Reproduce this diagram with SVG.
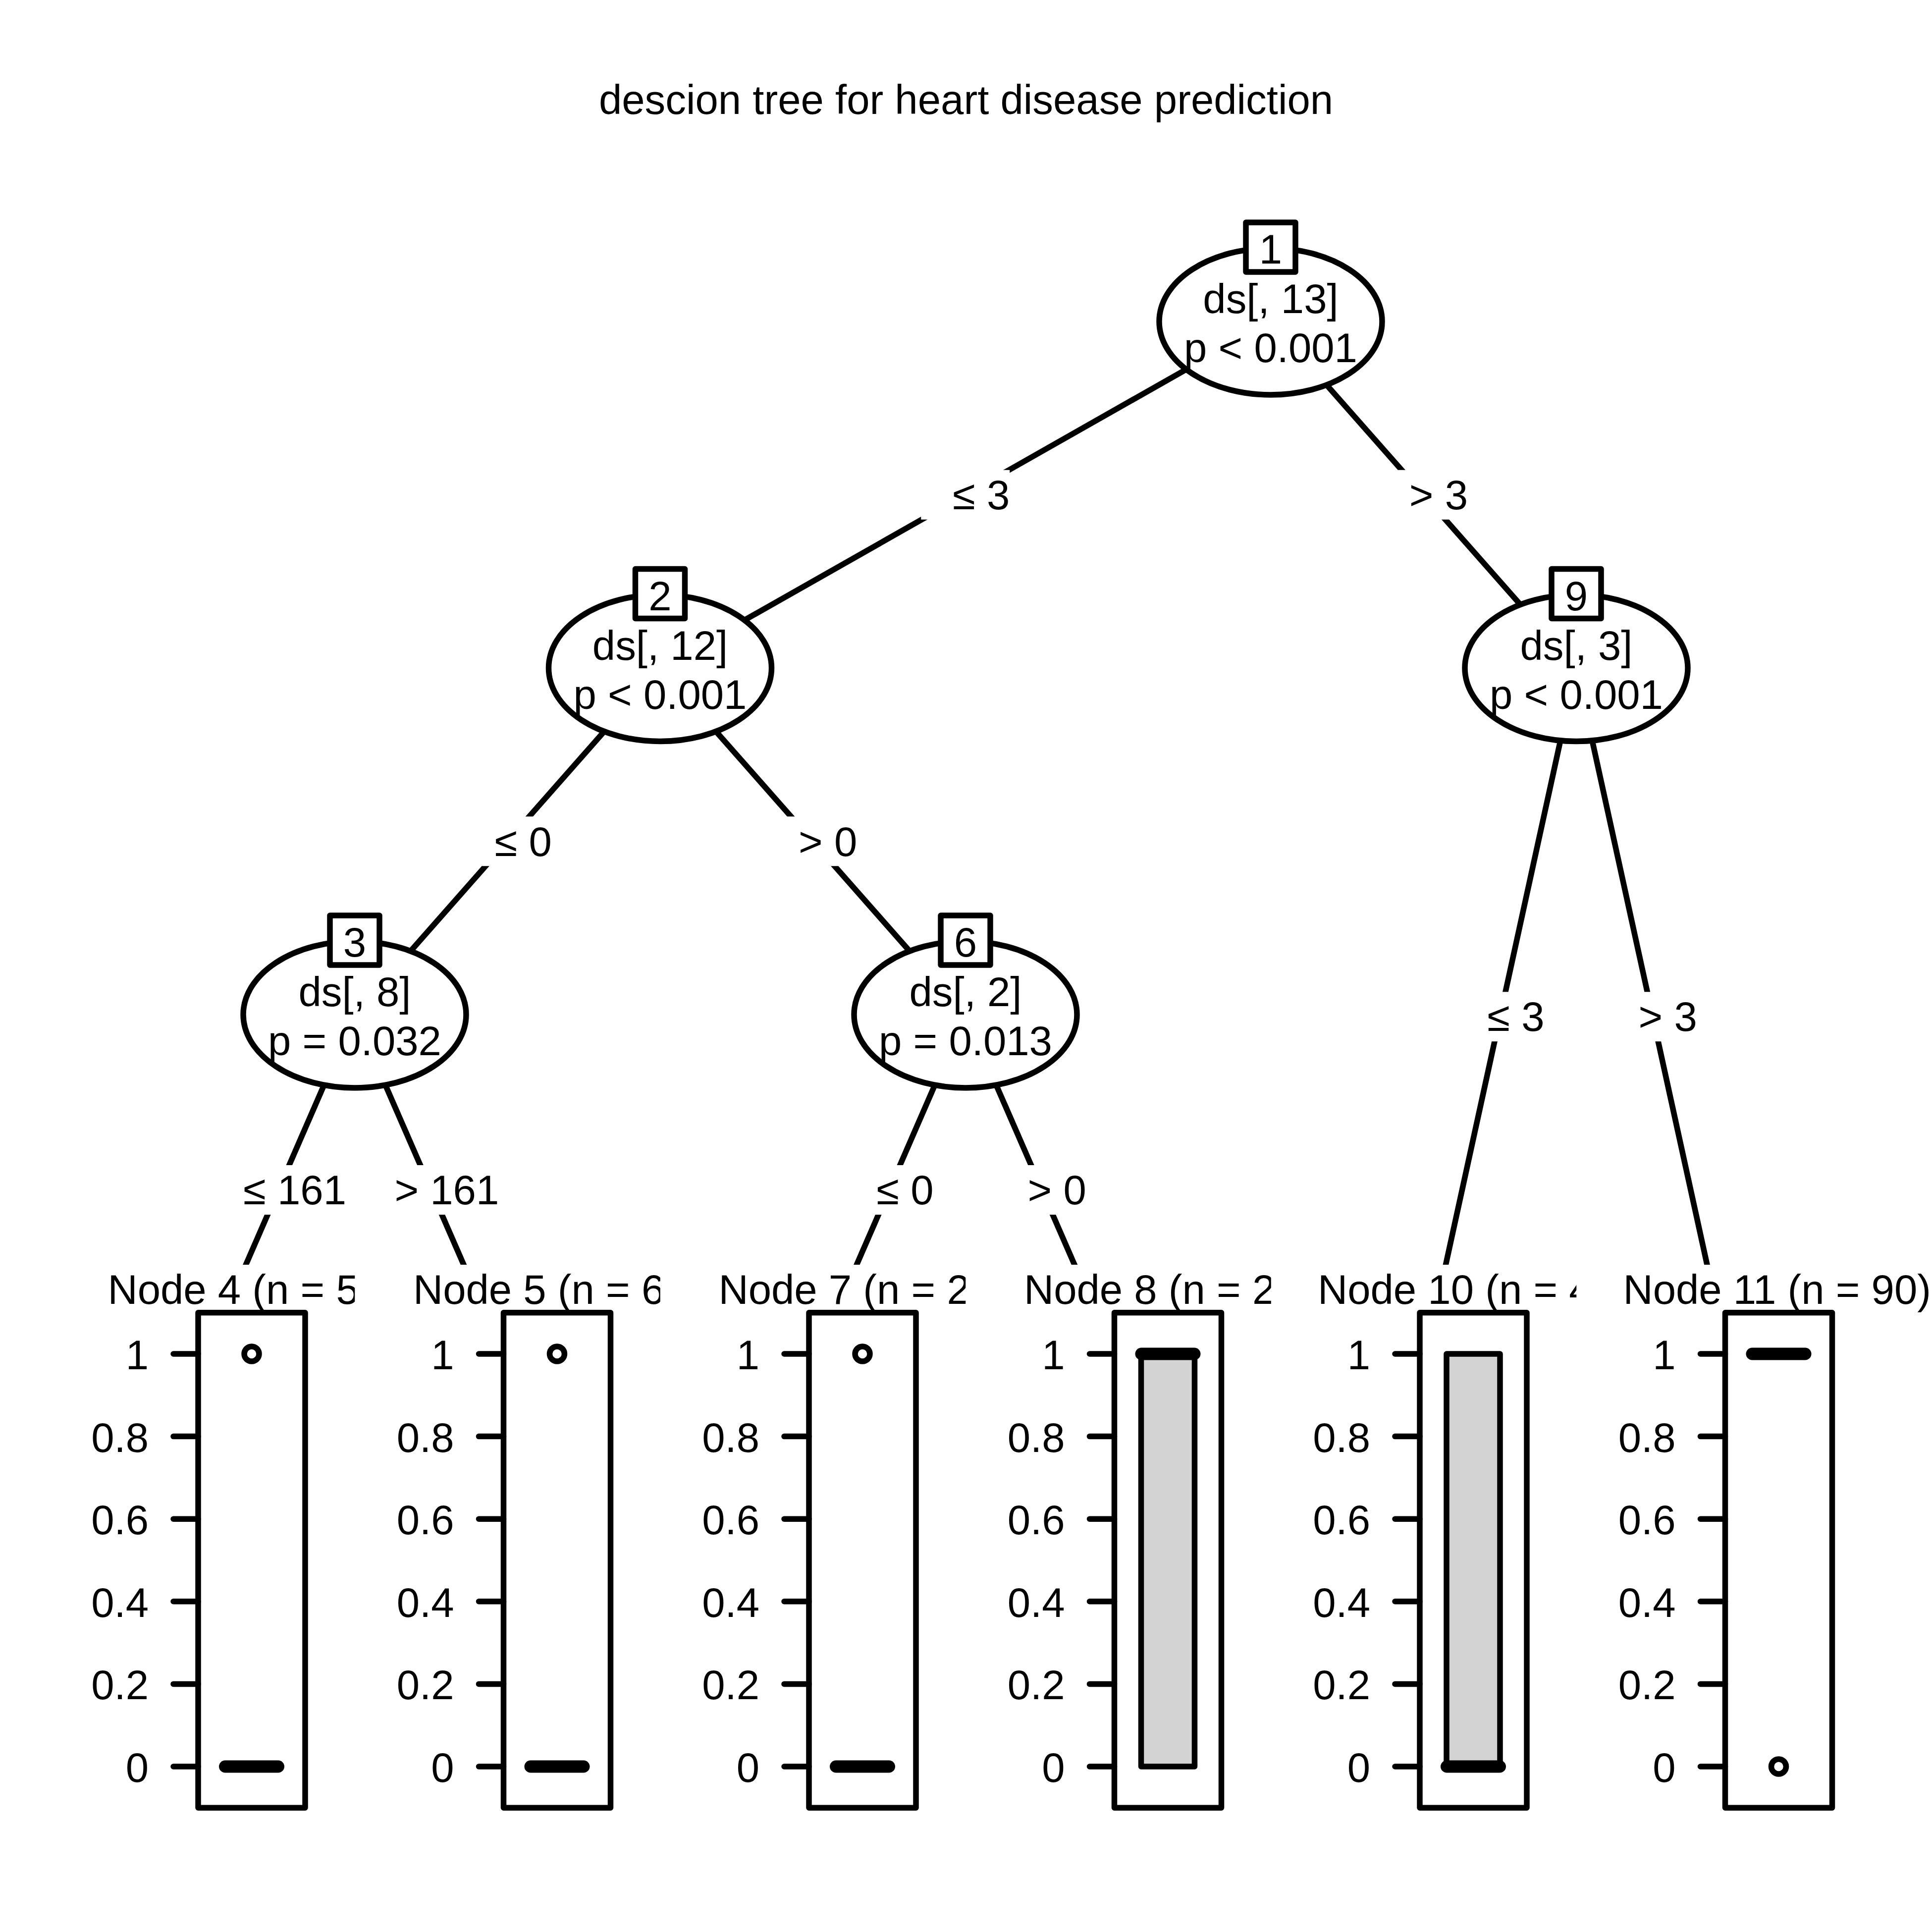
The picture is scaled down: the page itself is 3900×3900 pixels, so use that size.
<svg xmlns="http://www.w3.org/2000/svg" xmlns:xlink="http://www.w3.org/1999/xlink" width="3900" height="3900" viewBox="0 0 3900 3900">
<style>
.t{font-family:"Liberation Sans",Arial,sans-serif;font-size:83.33px;fill:#000}
.c{text-anchor:middle}
.e{text-anchor:end}
.edge{stroke:#000;stroke-width:11.5;fill:none}
.lbg,.bg{fill:#fff;stroke:none}
.nd{fill:#fff;stroke:#000;stroke-width:11.5}
.idb{fill:#fff;stroke:#000;stroke-width:11.5;stroke-linejoin:round}
.box{fill:#fff;stroke:#000;stroke-width:11.5;stroke-linejoin:round}
.tick{stroke:#000;stroke-width:11.5;stroke-linecap:round}
.bp{fill:#D3D3D3;stroke:#000;stroke-width:11.5;stroke-linejoin:round}
.med{stroke:#000;stroke-width:25;stroke-linecap:round}
.out{fill:#fff;stroke:#000;stroke-width:11.5}
</style>
<defs>
<g id="axis">
<line class="tick" x1="0" y1="3566" x2="-50" y2="3566"/>
<line class="tick" x1="0" y1="3399.4" x2="-50" y2="3399.4"/>
<line class="tick" x1="0" y1="3232.8" x2="-50" y2="3232.8"/>
<line class="tick" x1="0" y1="3066.2" x2="-50" y2="3066.2"/>
<line class="tick" x1="0" y1="2899.6" x2="-50" y2="2899.6"/>
<line class="tick" x1="0" y1="2733" x2="-50" y2="2733"/>
<text class="t e" x="-100" y="3597">0</text>
<text class="t e" x="-100" y="3430.4">0.2</text>
<text class="t e" x="-100" y="3263.8">0.4</text>
<text class="t e" x="-100" y="3097.2">0.6</text>
<text class="t e" x="-100" y="2930.6">0.8</text>
<text class="t e" x="-100" y="2764">1</text>
</g>
</defs>
<rect x="0" y="0" width="3900" height="3900" fill="#fff"/>
<text class="t c" x="1950" y="230">descion tree for heart disease prediction</text>

<g id="connectors">
<line class="edge" x1="2565" y1="649" x2="1332.5" y2="1348.5"/>
<line class="edge" x1="2565" y1="649" x2="3182" y2="1348.5"/>
<line class="edge" x1="1332.5" y1="1348.5" x2="716" y2="2048"/>
<line class="edge" x1="1332.5" y1="1348.5" x2="1949" y2="2048"/>
<line class="edge" x1="716" y1="2048" x2="408" y2="2756"/>
<line class="edge" x1="716" y1="2048" x2="1024.5" y2="2756"/>
<line class="edge" x1="1949" y1="2048" x2="1641" y2="2756"/>
<line class="edge" x1="1949" y1="2048" x2="2257.5" y2="2756"/>
<line class="edge" x1="3182" y1="1348.5" x2="2874" y2="2756"/>
<line class="edge" x1="3182" y1="1348.5" x2="3490.5" y2="2756"/>
<rect class="lbg" x="1859.25" y="948.75" width="179" height="100"/>
<text class="t e" x="2038.25" y="1028">≤ 3</text>
<rect class="lbg" x="2784" y="948.75" width="179" height="100"/>
<text class="t e" x="2963" y="1028">&gt; 3</text>
<rect class="lbg" x="934.75" y="1648.25" width="179" height="100"/>
<text class="t e" x="1113.75" y="1727.5">≤ 0</text>
<rect class="lbg" x="1551.25" y="1648.25" width="179" height="100"/>
<text class="t e" x="1730.25" y="1727.5">&gt; 0</text>
<rect class="lbg" x="426.5" y="2352" width="271" height="100"/>
<text class="t e" x="699" y="2431">≤ 161</text>
<rect class="lbg" x="734.75" y="2352" width="271" height="100"/>
<text class="t e" x="1007.25" y="2431">&gt; 161</text>
<rect class="lbg" x="1705.5" y="2352" width="179" height="100"/>
<text class="t e" x="1884.5" y="2431">≤ 0</text>
<rect class="lbg" x="2013.75" y="2352" width="179" height="100"/>
<text class="t e" x="2192.75" y="2431">&gt; 0</text>
<rect class="lbg" x="2938.5" y="2002.25" width="179" height="100"/>
<text class="t e" x="3117.5" y="2080.5">≤ 3</text>
<rect class="lbg" x="3246.75" y="2002.25" width="179" height="100"/>
<text class="t e" x="3425.75" y="2080.5">&gt; 3</text>
</g>

<g id="node1">
<ellipse class="nd" cx="2565" cy="649" rx="225" ry="148"/>
<rect class="idb" x="2515" y="449" width="100" height="100"/>
<text class="t c" x="2565" y="532">1</text>
<text class="t c" x="2565" y="632">ds[, 13]</text>
<text class="t c" x="2565" y="731">p &lt; 0.001</text>
</g>
<g id="node2">
<ellipse class="nd" cx="1332.5" cy="1348.5" rx="225" ry="148"/>
<rect class="idb" x="1282.5" y="1148.5" width="100" height="100"/>
<text class="t c" x="1332.5" y="1231.5">2</text>
<text class="t c" x="1332.5" y="1331.5">ds[, 12]</text>
<text class="t c" x="1332.5" y="1430.5">p &lt; 0.001</text>
</g>
<g id="node9">
<ellipse class="nd" cx="3182" cy="1348.5" rx="225" ry="148"/>
<rect class="idb" x="3132" y="1148.5" width="100" height="100"/>
<text class="t c" x="3182" y="1231.5">9</text>
<text class="t c" x="3182" y="1331.5">ds[, 3]</text>
<text class="t c" x="3182" y="1430.5">p &lt; 0.001</text>
</g>
<g id="node3">
<ellipse class="nd" cx="716" cy="2048" rx="225" ry="148"/>
<rect class="idb" x="666" y="1848" width="100" height="100"/>
<text class="t c" x="716" y="1931">3</text>
<text class="t c" x="716" y="2031">ds[, 8]</text>
<text class="t c" x="716" y="2130">p = 0.032</text>
</g>
<g id="node6">
<ellipse class="nd" cx="1949" cy="2048" rx="225" ry="148"/>
<rect class="idb" x="1899" y="1848" width="100" height="100"/>
<text class="t c" x="1949" y="1931">6</text>
<text class="t c" x="1949" y="2031">ds[, 2]</text>
<text class="t c" x="1949" y="2130">p = 0.013</text>
</g>

<g id="node4">
<rect class="bg" x="99.75" y="2553" width="616.5" height="1200"/>
<text class="t" x="217.5" y="2632">Node 4 (n = 5</text>
<rect class="box" x="400" y="2649.7" width="216" height="999.6"/>
<use xlink:href="#axis" x="400"/>
<line class="med" x1="454.5" y1="3566" x2="561.5" y2="3566"/>
<circle class="out" cx="508" cy="2733" r="15"/>
</g>
<g id="node5">
<rect class="bg" x="716.25" y="2553" width="616.5" height="1200"/>
<text class="t" x="834" y="2632">Node 5 (n = 6</text>
<rect class="box" x="1016.5" y="2649.7" width="216" height="999.6"/>
<use xlink:href="#axis" x="1016.5"/>
<line class="med" x1="1071" y1="3566" x2="1178" y2="3566"/>
<circle class="out" cx="1124.5" cy="2733" r="15"/>
</g>
<g id="node7">
<rect class="bg" x="1332.75" y="2553" width="616.5" height="1200"/>
<text class="t" x="1450.5" y="2632">Node 7 (n = 2</text>
<rect class="box" x="1633" y="2649.7" width="216" height="999.6"/>
<use xlink:href="#axis" x="1633"/>
<line class="med" x1="1687.5" y1="3566" x2="1794.5" y2="3566"/>
<circle class="out" cx="1741" cy="2733" r="15"/>
</g>
<g id="node8">
<rect class="bg" x="1949.25" y="2553" width="616.5" height="1200"/>
<text class="t" x="2067" y="2632">Node 8 (n = 2</text>
<rect class="box" x="2249.5" y="2649.7" width="216" height="999.6"/>
<use xlink:href="#axis" x="2249.5"/>
<rect class="bp" x="2303.5" y="2733" width="108" height="833"/>
<line class="med" x1="2304" y1="2733" x2="2411" y2="2733"/>
</g>
<g id="node10">
<rect class="bg" x="2565.75" y="2553" width="616.5" height="1200"/>
<text class="t" x="2660" y="2632">Node 10 (n = 4</text>
<rect class="box" x="2866" y="2649.7" width="216" height="999.6"/>
<use xlink:href="#axis" x="2866"/>
<rect class="bp" x="2920" y="2733" width="108" height="833"/>
<line class="med" x1="2920.5" y1="3566" x2="3027.5" y2="3566"/>
</g>
<g id="node11">
<rect class="bg" x="3182.25" y="2553" width="616.5" height="1200"/>
<text class="t" x="3276.5" y="2632">Node 11 (n = 90)</text>
<rect class="box" x="3482.5" y="2649.7" width="216" height="999.6"/>
<use xlink:href="#axis" x="3482.5"/>
<line class="med" x1="3537" y1="2733" x2="3644" y2="2733"/>
<circle class="out" cx="3590.5" cy="3566" r="15"/>
</g>
</svg>
